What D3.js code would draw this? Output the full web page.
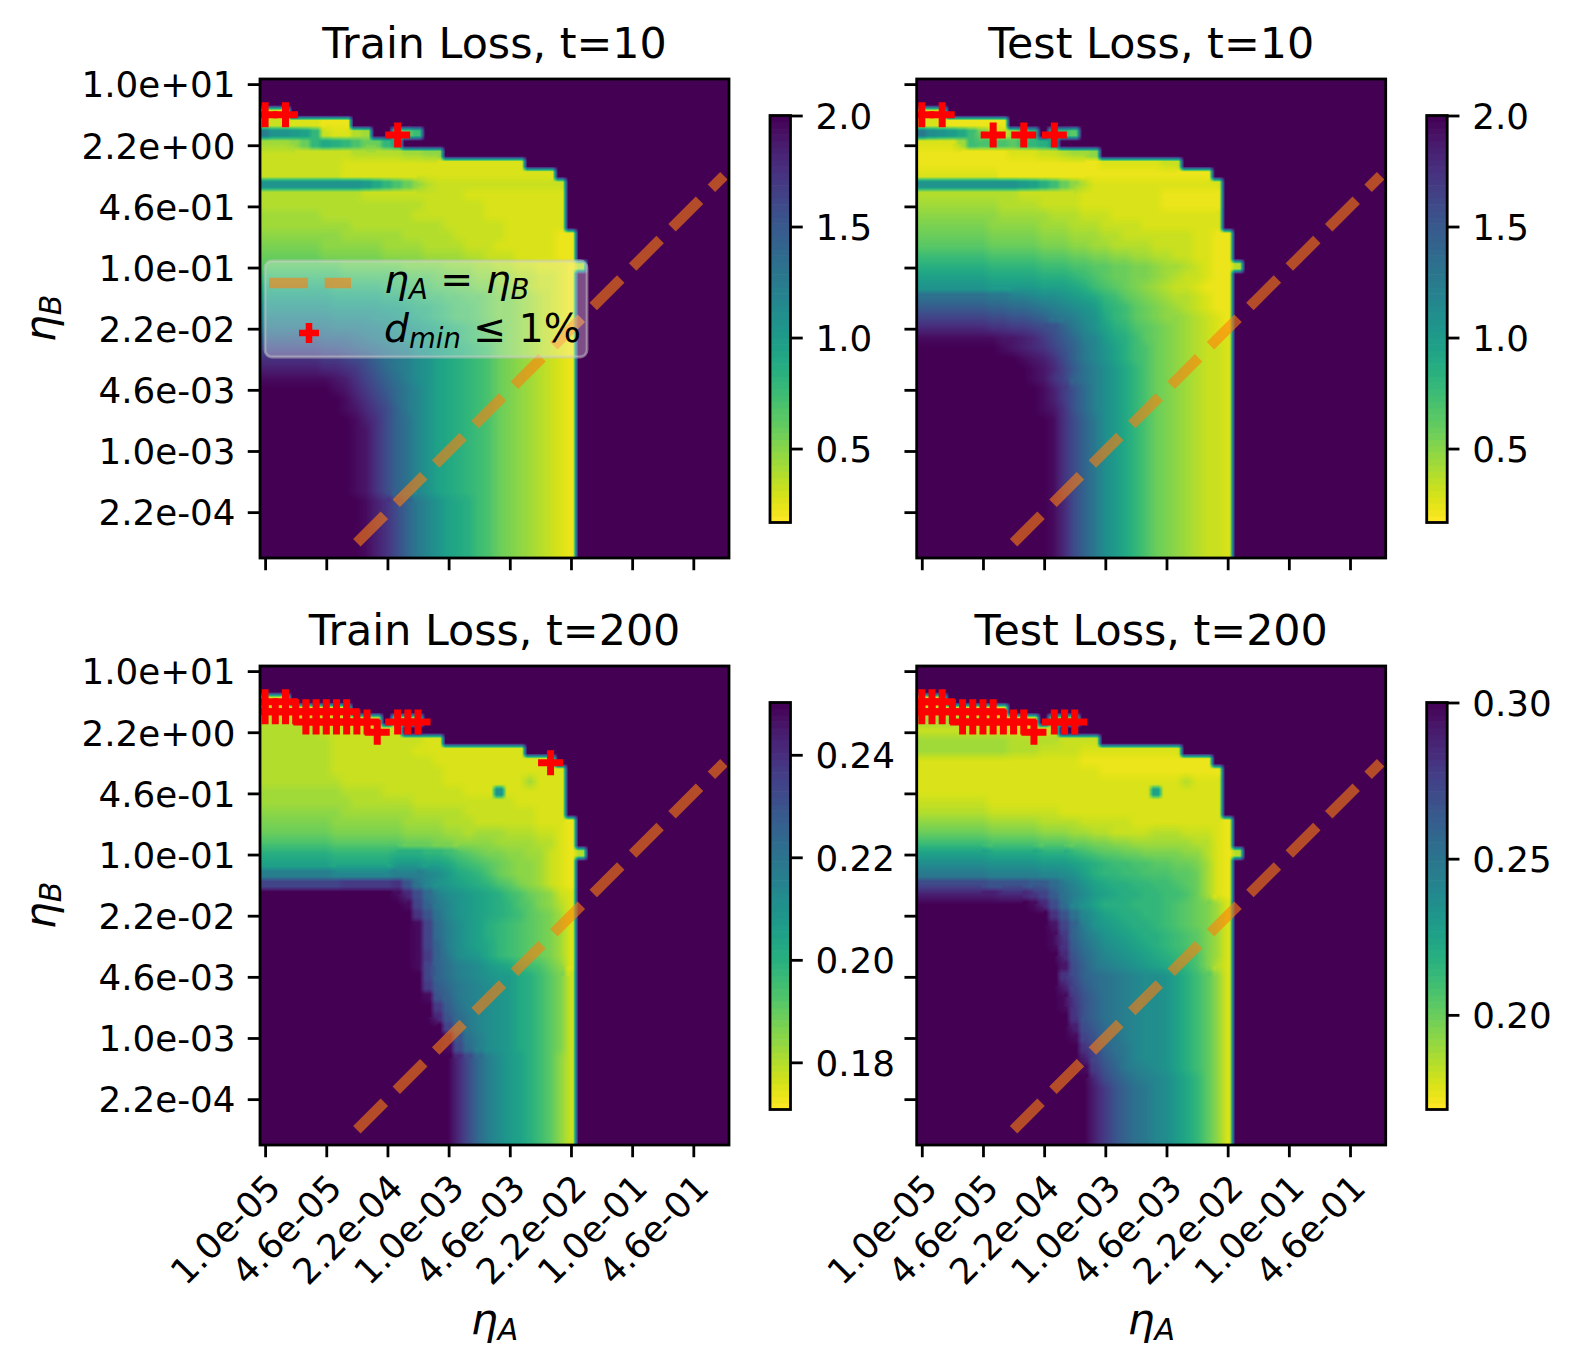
<!DOCTYPE html>
<html>
<head>
<meta charset="utf-8">
<script src="https://cdnjs.cloudflare.com/ajax/libs/d3/7.8.5/d3.min.js"></script>
<style>
body { margin: 0; background: #fff; }
text { font-family: "DejaVu Sans"; fill: #000; white-space: pre; }
</style>
</head>
<body>
<svg id="fig" width="1577" height="1372"></svg>
<script>
"use strict";

// loss levels per cell. 0 = bottom of the colorbar, z = top.
// one string per row of eta_B, one char per column of eta_A. anything past the
// end of a string is the diverged area (top of the colorbar)
var trainLoss10 = [
"","","",
"232",
"333222111",
"khhgfc32245zz89b",
"55568cedca88cf",
"333333333444445566",
"33333333222222222222222222",
"33333333222222222222222222222",
"hhhhhhhhhhgeca8643333333333333",
"444444444433333333332222222222",
"444444444444444433333322222222",
"555555444444444333333322222222",
"555555555444444444333333222222",
"6666666655555544444333332222211",
"7777776666665555444433322222211",
"8888887777776666555544333222211",
"99999999888888777766655443322214",
"bbbbbbbbaaaaaa99988776655443321",
"dddddddcccccbbbaa99887766543321",
"fffffffeeeeeddccbbaa99877654321",
"hhhhhhhgggggffeddcbaa9877654321",
"jjjjjjjiiiihhgfedcbaa9877654321",
"lllllllkkkjjihhgfedcba987654321",
"oooooonnnmlkjihgfedcba987654321",
"rrrrrrqqponmlkjhgfedcba87654321",
"uuuuuuttsrqomlkihfedcba87654321",
"wwwwwwvvutrpnlkihfedcba87654321",
"yyyyyyyxwusqomkihfedcba87654321",
"zzzzzzzyxvtrpnljhfedcba87654321",
"zzzzzzzzywusqnljhfedcba87654321",
"zzzzzzzzyxvtroljhfedcba87654321",
"zzzzzzzzzywuromjhfedcba87654321",
"zzzzzzzzzyxuromjhfedcba87654321",
"zzzzzzzzzyxuromjhfedcba87654321",
"zzzzzzzzzyxuromjhfedcba87654321",
"zzzzzzzzzyxuromjhfedcba87654321",
"zzzzzzzzzyxuromjhfedcba87654321",
"zzzzzzzzzyxuromjhfedcba87654321",
"zzzzzzzzzyxuromjhfedcba87654321",
"zzzzzzzzzzywuroljhfedba87654321",
"zzzzzzzzzzywuroljhfedba87654321",
"zzzzzzzzzzywuroljhfedba87654321",
"zzzzzzzzzzywuroljhfedba87654321",
"zzzzzzzzzzywuroljhfedba87654321",
"zzzzzzzzzzywuroljhfedba87654321"
];

var testLoss10 = [
"","","",
"232",
"222111111",
"lihgeb74358czbb9",
"22225baaa9bcdg",
"111111111222334556",
"11111111111111111122222233",
"22222222111111111111111111111",
"hhhhhhhhhhgfdb8642222222222222",
"444444444433333322222222111111",
"555555554444333322222222111111",
"666666665555544433322222222222",
"777777766666555444333322222222",
"8888888777776665554433333332211",
"9999999888887776655444433332211",
"bbbbbbbaaaaa9998877665544332211",
"dddddddcccccbbbaa998877655432114",
"fffffffeeeeedddcba9887765433211",
"hhhhhhhgggggfffedba987654332111",
"mmmmmmmllkkjiihgfecb98765443211",
"pppppppoonnmlkjihgdcb9876543211",
"sssssssrrqqpomlkihecb9876654321",
"vvvvvvvuuttsrqoljhfdca987654321",
"yyyyyyyyxxwvtrpnkjgedb987654322",
"zzzzzzzzyxwvusqoljhfdba87654332",
"zzzzzzzzzzyxwuroljhfdba87654332",
"zzzzzzzzzzzyxvspmkigeca87654332",
"zzzzzzzzzzzyxusomkigeca87654332",
"zzzzzzzzzzzzywtqnkigeca87654332",
"zzzzzzzzzzzzywtqnkigeca87654332",
"zzzzzzzzzzzzyxuqnkigeca87654332",
"zzzzzzzzzzzzzyuroligeca87654332",
"zzzzzzzzzzzzzyuroligeca87654332",
"zzzzzzzzzzzzzyuroligeca87654332",
"zzzzzzzzzzzzzyuroligeca87654332",
"zzzzzzzzzzzzzyuroligeca87654332",
"zzzzzzzzzzzzzyuroligeca87654332",
"zzzzzzzzzzzzzyuroligeca87654332",
"zzzzzzzzzzzzzyuroligeca87654332",
"zzzzzzzzzzzzzyvroligeca87654332",
"zzzzzzzzzzzzzyvroligeca87654332",
"zzzzzzzzzzzzzyvroligeca87654332",
"zzzzzzzzzzzzzyvroligeca87654332",
"zzzzzzzzzzzzzyvroligeca87654332",
"zzzzzzzzzzzzzyvroligeca87654332"
];

var trainLoss200 = [
"","","",
"232",
"333222222",
"444444333333z555",
"44444433333333",
"444444433333333322",
"44444443333333322222222222",
"44444443333333333222222222222",
"444444433333333333222222222222",
"444444443333333333222222225222",
"55555555444433333333222h222222",
"555555555444444333333333322222",
"666666665555555444443333333222",
"7777777666666655554443333332221",
"8888888777777766665545554443321",
"aaaaaaa99999998887766665555442" + "1",
"dddddddccccccdddccba987766553214",
"fffffffeeeeeegggffecba987665321",
"kkkkkkkjjjjjjkkkjigedca87665321",
"sssssssstttttuqmjhgfedca9765321",
"zzzzzzzzzzzzzyvrnkihgfedba87632",
"zzzzzzzzzzzzzzysoljhgfedca97642",
"zzzzzzzzzzzzzzzuqmjhgfedcb98752",
"zzzzzzzzzzzzzzzysnkigfdcba98752",
"zzzzzzzzzzzzzzzysnkigfdcba98752",
"zzzzzzzzzzzzzzzysokigfecba98752",
"zzzzzzzzzzzzzzzytolihgecba98752",
"zzzzzzzzzzzzzzzysomkjigfecba862",
"zzzzzzzzzzzzzzzzsomkjihggedb973",
"zzzzzzzzzzzzzzzztpnlkjihgedb973",
"zzzzzzzzzzzzzzzzyqolkjihgedb973",
"zzzzzzzzzzzzzzzzztpmkjihgedb973",
"zzzzzzzzzzzzzzzzzvqnljihgedb973",
"zzzzzzzzzzzzzzzzzzsoljihgedb973",
"zzzzzzzzzzzzzzzzzzyqmkihgedb973",
"zzzzzzzzzzzzzzzzzzyrnkihgedb973",
"zzzzzzzzzzzzzzzzzzzvrnkigfdb963",
"zzzzzzzzzzzzzzzzzzzvrnkigfdb963",
"zzzzzzzzzzzzzzzzzzzvrnkigfdb963",
"zzzzzzzzzzzzzzzzzzzvrnkigfdb963",
"zzzzzzzzzzzzzzzzzzzvrnkigfdb963",
"zzzzzzzzzzzzzzzzzzzvrnkigfdb963",
"zzzzzzzzzzzzzzzzzzzvrnkigfdb963",
"zzzzzzzzzzzzzzzzzzzvrnkigfdb963",
"zzzzzzzzzzzzzzzzzzzvrnkigfdb963"
];

var testLoss200 = [
"","","",
"333",
"433322222",
"555544433322z666",
"33333333333333",
"555555555444443333",
"55555555544433332222222222",
"22222222222222221111111111111",
"222222222222222222111111111111",
"222222222222222222222222224222",
"22222222222222222222222f222222",
"333333322222222222222222222222",
"444444433333332222222222222222",
"6666666555554444333332222222221",
"8888888777776665544333344433321",
"bbbbbbbaaaaa9998877665555554421",
"fffffffeeeeedddcba99887777664214",
"iiiiiiihhhhhgggfedcbbaa99887521",
"lllllllkkkkkjjihfdccbbaaa998521",
"rrrrrrrqqqqppnljhfeddccbba98521",
"wwwwwwwwvvvuspmkigfeddccbba8521",
"zzzzzzzzzzzyvrnjhfdddcccba98752",
"zzzzzzzzzzzzzuqmjhfeddccba98752",
"zzzzzzzzzzzzzxsokhgfeddcba98752",
"zzzzzzzzzzzzzytoljhgfeddcba9752",
"zzzzzzzzzzzzzyupmkihgfedcba9752",
"zzzzzzzzzzzzzzvqnljihgfedcba752",
"zzzzzzzzzzzzzzxrolkjihgfedca742",
"zzzzzzzzzzzzzzuronmlkjiihfdb962",
"zzzzzzzzzzzzzzwspnmlkjiihfdb962",
"zzzzzzzzzzzzzzytqomlkjiihfdb962",
"zzzzzzzzzzzzzzyuqomlkjiihfdb962",
"zzzzzzzzzzzzzzzuqomlkjiihfdb962",
"zzzzzzzzzzzzzzzwrpnlkjiihfdb962",
"zzzzzzzzzzzzzzzysqnmkjiihfdb962",
"zzzzzzzzzzzzzzzzuromljiihfdb962",
"zzzzzzzzzzzzzzzzwspnljiihfdb962",
"zzzzzzzzzzzzzzzzytqolkjihfdb962",
"zzzzzzzzzzzzzzzzzvrpnlkjigec962",
"zzzzzzzzzzzzzzzzzwtqomljigec962",
"zzzzzzzzzzzzzzzzzwtqomljigec962",
"zzzzzzzzzzzzzzzzzwtqomljigec962",
"zzzzzzzzzzzzzzzzzwtqomljigec962",
"zzzzzzzzzzzzzzzzzwtqomljigec962",
"zzzzzzzzzzzzzzzzzwtqomljigec962"
];

// cells with d_min <= 1%, as [column, row]
var trainMarks10 = [[0,3],[2,3],[13,5]];
var testMarks10 = [[0,3],[2,3],[7,5],[10,5],[13,5]];
var trainMarks200 = [[0,3],[2,3],[0,4],[1,4],[2,4],[3,4],[4,4],[5,4],[6,4],[7,4],[8,4],
  [4,5],[5,5],[6,5],[7,5],[8,5],[9,5],[10,5],[11,6],[13,5],[14,5],[15,5],[28,9]];
var testMarks200 = [[0,3],[1,3],[2,3],[0,4],[1,4],[2,4],[3,4],[4,4],[5,4],[6,4],[7,4],
  [4,5],[5,5],[6,5],[7,5],[8,5],[9,5],[10,5],[11,6],[13,5],[14,5],[15,5]];

var xTickLabels = ["1.0e-05","4.6e-05","2.2e-04","1.0e-03","4.6e-03","2.2e-02","1.0e-01","4.6e-01"];
var yTickLabels = ["1.0e+01","2.2e+00","4.6e-01","1.0e-01","2.2e-02","4.6e-03","1.0e-03","2.2e-04"];
var tickIndex = [0,6,12,18,24,30,36,42];

// eta_A = eta_B, in cell indices
var diagCols = [9,45];
var diagRows = [45,9];

var levels = "0123456789abcdefghijklmnopqrstuvwxyz";
var nCols = 46, nRows = 47;

var lineColor = "#ff7f0e";
var fs = 35.7, titleFs = 42.8, legendFs = 39.3;
var tickLen = 12.25, sw = 2.8;
var imgShift = [-1, -2];  // the heat image sits a little off the cell grid

var svg = d3.select("#fig");

function addMath(txt, parts, size) {
  var back = 0;
  parts.forEach(function(p) {
    var ts = txt.append("tspan").text(p.t);
    if (p.i) ts.attr("font-style", "italic");
    var dy = back;
    if (p.sub) { ts.attr("font-size", size * 0.7); dy += size * 0.15; back = -size * 0.15; }
    else back = 0;
    if (dy) ts.attr("dy", dy);
  });
}

function drawHeat(rows, vmin, vmax, w, h) {
  var color = d3.scaleSequential(d3.interpolateViridis).domain([vmax, vmin]);
  var lut = d3.range(1025).map(function(i) { return d3.rgb(color(vmin + (vmax - vmin) * i / 1024)); });
  var data = rows.map(function(r) {
    return r.padEnd(nCols, "z").slice(0, nCols).split("").map(function(c) {
      return levels.indexOf(c) / 35;
    });
  });
  var cv = document.createElement("canvas");
  cv.width = w; cv.height = h;
  var ctx = cv.getContext("2d");
  var im = ctx.createImageData(w, h);
  var cw = w / nCols, ch = h / nRows, soft = 0.5, gapSmooth = 5 / 35;
  function edge(u, n) {
    var i = Math.floor(u), f = u - i;
    var s = Math.max(0, Math.min(1, (f - 0.5) / soft + 0.5));
    return [Math.max(0, Math.min(n - 1, i)), Math.max(0, Math.min(n - 1, i + 1)), s, f];
  }
  for (var py = 0; py < h; py++) {
    var ey = edge((py + 0.5) / ch - 0.5, nRows);
    for (var px = 0; px < w; px++) {
      var ex = edge((px + 0.5) / cw - 0.5, nCols);
      var a = data[ey[0]][ex[0]], b = data[ey[0]][ex[1]], c = data[ey[1]][ex[0]], d = data[ey[1]][ex[1]];
      // close neighbours blend across the whole cell, far ones only near the border
      var smooth = Math.max(a, b, c, d) - Math.min(a, b, c, d) < gapSmooth;
      var sx = smooth ? ex[3] : ex[2], sy = smooth ? ey[3] : ey[2];
      var v = (a * (1 - sx) + b * sx) * (1 - sy) + (c * (1 - sx) + d * sx) * sy;
      var rgb = lut[Math.round(v * 1024)];
      var k = (py * w + px) * 4;
      im.data[k] = rgb.r; im.data[k + 1] = rgb.g; im.data[k + 2] = rgb.b; im.data[k + 3] = 255;
    }
  }
  ctx.putImageData(im, 0, 0);
  return cv.toDataURL();
}

function drawPanel(p) {
  var x0 = p.left, x1 = p.left + 469, y0 = p.top, y1 = p.top + 479;
  var x = d3.scaleLinear().domain([-0.5, nCols - 0.5]).range([x0, x1]);
  var y = d3.scaleLinear().domain([-0.5, nRows - 0.5]).range([y0, y1]);
  var clipId = "clip" + p.id;
  svg.append("clipPath").attr("id", clipId).append("rect")
    .attr("x", x0).attr("y", y0).attr("width", x1 - x0).attr("height", y1 - y0);
  var g = svg.append("g").attr("clip-path", "url(#" + clipId + ")");

  g.append("image")
    .attr("x", x0 + imgShift[0]).attr("y", y0 + imgShift[1])
    .attr("width", 470).attr("height", 481)
    .attr("preserveAspectRatio", "none")
    .attr("href", drawHeat(p.rows, p.vmin, p.vmax, 470, 481));

  g.append("path")
    .attr("d", d3.line().x(function(d, i) { return x(d); }).y(function(d, i) { return y(diagRows[i]); })(diagCols))
    .attr("fill", "none").attr("stroke", lineColor).attr("stroke-opacity", 0.6)
    .attr("stroke-width", 10.5).attr("stroke-dasharray", "38.9,16.8");

  g.selectAll("path.mark").data(p.marks).enter().append("path").attr("class", "mark")
    .attr("d", "M-12.5,0H12.5M0,-12.5V12.5")
    .attr("transform", function(d) { return "translate(" + x(d[0]) + "," + y(d[1]) + ")"; })
    .attr("fill", "none").attr("stroke", "#f00").attr("stroke-width", 7);

  var xAxis = d3.axisBottom(x).tickValues(tickIndex).tickSize(tickLen).tickSizeOuter(0)
    .tickFormat(function(d, i) { return p.bottom ? xTickLabels[i] : ""; });
  var yAxis = d3.axisLeft(y).tickValues(tickIndex).tickSize(tickLen).tickSizeOuter(0)
    .tickFormat(function(d, i) { return p.labelY ? yTickLabels[i] : ""; });

  var gx = svg.append("g").attr("transform", "translate(0," + y1 + ")").call(xAxis);
  var gy = svg.append("g").attr("transform", "translate(" + x0 + ",0)").call(yAxis);
  gx.select(".domain").remove(); gy.select(".domain").remove();
  svg.selectAll("g.tick line").attr("stroke", "#000").attr("stroke-width", sw);
  gx.selectAll("text").attr("font-size", fs).attr("font-family", "DejaVu Sans")
    .attr("text-anchor", "end").attr("y", 0).attr("dy", 0)
    .attr("transform", "translate(17,45) rotate(-45)");
  gy.selectAll("text").attr("font-size", fs).attr("font-family", "DejaVu Sans")
    .attr("x", -24.5).attr("dy", "0.36em");

  svg.append("rect").attr("x", x0).attr("y", y0).attr("width", x1 - x0).attr("height", y1 - y0)
    .attr("fill", "none").attr("stroke", "#000").attr("stroke-width", sw);

  svg.append("text").attr("x", (x0 + x1) / 2).attr("y", y0 - 21).attr("text-anchor", "middle")
    .attr("font-size", titleFs).text(p.title);

  if (p.labelY) {
    var ty = svg.append("text").attr("text-anchor", "middle").attr("font-size", titleFs)
      .attr("transform", "translate(55," + (y0 + y1) / 2 + ") rotate(-90)");
    addMath(ty, [{ t: "η", i: 1 }, { t: "B", i: 1, sub: 1 }], titleFs);
  }
  if (p.bottom) {
    var tx = svg.append("text").attr("text-anchor", "middle").attr("font-size", titleFs)
      .attr("x", (x0 + x1) / 2).attr("y", 1334);
    addMath(tx, [{ t: "η", i: 1 }, { t: "A", i: 1, sub: 1 }], titleFs);
  }

  // colorbar
  var barX = x1 + 41, barW = 20.5, barTop = y0 + 36.5, barBot = barTop + 407;
  var cy = d3.scaleLinear().domain([p.vmin, p.vmax]).range([barBot, barTop]);
  var color = d3.scaleSequential(d3.interpolateViridis).domain([p.vmax, p.vmin]);
  var steps = d3.range(64).map(function(i) { return p.vmin + (p.vmax - p.vmin) * i / 64; });
  var stepH = (barBot - barTop) / 64;
  svg.append("g").selectAll("rect").data(steps).enter().append("rect")
    .attr("x", barX).attr("width", barW)
    .attr("y", function(d) { return cy(d) - stepH - 0.3; }).attr("height", stepH + 0.6)
    .attr("fill", function(d) { return color(d + (p.vmax - p.vmin) / 128); });
  var cAxis = d3.axisRight(cy).tickValues(p.cbTicks).tickSize(tickLen).tickSizeOuter(0).tickFormat(p.cbFormat);
  var gc = svg.append("g").attr("transform", "translate(" + (barX + barW) + ",0)").call(cAxis);
  gc.select(".domain").remove();
  gc.selectAll("line").attr("stroke", "#000").attr("stroke-width", sw);
  gc.selectAll("text").attr("font-size", fs).attr("font-family", "DejaVu Sans").attr("x", 25).attr("dy", "0.36em");
  svg.append("rect").attr("x", barX).attr("y", barTop).attr("width", barW).attr("height", barBot - barTop)
    .attr("fill", "none").attr("stroke", "#000").attr("stroke-width", sw);
}

var f1 = d3.format(".1f"), f2 = d3.format(".2f");
var colTop = 79, colBottom = 666, rowLeft = 260, rowRight = 916.7;

drawPanel({ id: 1, left: rowLeft, top: colTop, rows: trainLoss10, marks: trainMarks10, vmin: 0.167, vmax: 2,
  title: "Train Loss, t=10", labelY: true, bottom: false, cbTicks: [0.5, 1, 1.5, 2], cbFormat: f1 });
drawPanel({ id: 2, left: rowRight, top: colTop, rows: testLoss10, marks: testMarks10, vmin: 0.167, vmax: 2,
  title: "Test Loss, t=10", labelY: false, bottom: false, cbTicks: [0.5, 1, 1.5, 2], cbFormat: f1 });
drawPanel({ id: 3, left: rowLeft, top: colBottom, rows: trainLoss200, marks: trainMarks200, vmin: 0.1708, vmax: 0.2502,
  title: "Train Loss, t=200", labelY: true, bottom: true, cbTicks: [0.18, 0.20, 0.22, 0.24], cbFormat: f2 });
drawPanel({ id: 4, left: rowRight, top: colBottom, rows: testLoss200, marks: testMarks200, vmin: 0.1697, vmax: 0.30,
  title: "Test Loss, t=200", labelY: false, bottom: true, cbTicks: [0.20, 0.25, 0.30], cbFormat: f2 });

// legend, first panel only
var leg = svg.append("g");
leg.append("rect").attr("x", 265).attr("y", 261).attr("width", 322).attr("height", 96).attr("rx", 7)
  .attr("fill", "#fff").attr("fill-opacity", 0.3).attr("stroke", "#ccc").attr("stroke-opacity", 0.5).attr("stroke-width", 2.8);
leg.append("line").attr("x1", 269).attr("x2", 351).attr("y1", 283).attr("y2", 283)
  .attr("stroke", lineColor).attr("stroke-opacity", 0.6).attr("stroke-width", 10.5).attr("stroke-dasharray", "38.9,16.8");
leg.append("path").attr("d", "M-10,0H10M0,-10V10").attr("transform", "translate(309,333)")
  .attr("fill", "none").attr("stroke", "#f00").attr("stroke-width", 6.5);
var l1 = leg.append("text").attr("x", 384).attr("y", 293).attr("font-size", legendFs);
addMath(l1, [{ t: "η", i: 1 }, { t: "A", i: 1, sub: 1 }, { t: " = " }, { t: "η", i: 1 }, { t: "B", i: 1, sub: 1 }], legendFs);
var l2 = leg.append("text").attr("x", 384).attr("y", 342).attr("font-size", legendFs);
addMath(l2, [{ t: "d", i: 1 }, { t: "min", i: 1, sub: 1 }, { t: " ≤ 1%" }], legendFs);
</script>
</body>
</html>
